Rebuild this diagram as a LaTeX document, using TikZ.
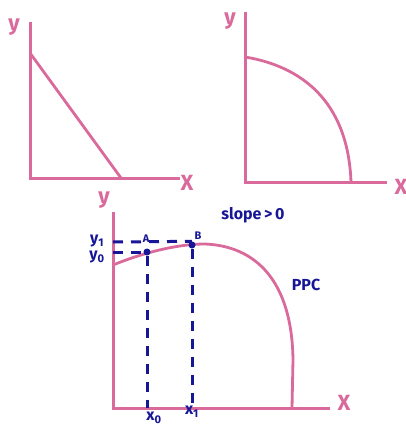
\documentclass[tikz,border=0pt]{standalone}
\usepackage{fontspec}
\setmainfont{Fira Sans}
\definecolor{pinkc}{RGB}{217,106,155}
\definecolor{bluec}{RGB}{22,22,150}
\begin{document}
\begin{tikzpicture}[x=1pt,y=-1pt,
  axis/.style={draw=pinkc,line width=3pt},
  curve/.style={draw=pinkc,line width=2.8pt},
  guide/.style={draw=bluec,line width=3pt,dash pattern=on 10pt off 8pt},
  plab/.style={text=pinkc,font=\bfseries\fontsize{22}{22}\selectfont},
  blab/.style={text=bluec,font=\bfseries\fontsize{16}{16}\selectfont},
  dot/.style={circle,fill=bluec,inner sep=0pt,minimum size=7pt}]
\useasboundingbox (0,0) rectangle (406,426);
% top-left
\coordinate (o1) at (30,178);
\draw[axis] (30,22) -- (o1) -- (180,178);
\draw[curve] (30,53) -- (121,178);
\node[plab] (y1lab) at (14,27) {y};
\node[plab] (x1lab) at (187,183) {X};
% top-right
\coordinate (o2) at (245,182);
\draw[axis] (245,12) -- (o2) -- (387,182);
\draw[curve] (245,57) .. controls (300,66) and (348,100) .. (351,182);
\node[plab] (y2lab) at (230,21) {y};
\node[plab] (x2lab) at (401,187) {X};
% bottom
\coordinate (o3) at (113,408);
\draw[axis] (113,212) -- (o3) -- (330,408);
\node[plab] (y3lab) at (104,200) {y};
\node[plab] (x3lab) at (344,403) {X};
\draw[curve] (113,265) .. controls (140,254) and (175,244) .. (205,244)
  .. controls (255,246) and (292,280) .. (293,360) -- (292,408);
\node[dot] (A) at (147,252) {};
\node[dot] (B) at (192,245) {};
\coordinate (ya) at (113,252);
\coordinate (yb) at (113,242);
\coordinate (xa) at (147,408);
\coordinate (xb) at (192,408);
\draw[guide] (yb) -- (B.north);
\draw[guide] (ya) -- (A);
\draw[guide] (A) -- (xa);
\draw[guide] (B) -- (xb);
\node[blab,font=\bfseries\fontsize{11}{11}\selectfont] (Alab) at (146,239) {A};
\node[blab,font=\bfseries\fontsize{11}{11}\selectfont] (Blab) at (198,236) {B};
\node[blab] (yone) at (97,241) {y\textsubscript{1}};
\node[blab] (yzero) at (97,257) {y\textsubscript{0}};
\node[blab] (xzero) at (154,418) {x\textsubscript{0}};
\node[blab] (xone) at (192,412) {x\textsubscript{1}};
\node[blab] (slope) at (253,215) {slope\,>\,0};
\node[blab] (ppc) at (306,285) {PPC};
\end{tikzpicture}
\end{document}
